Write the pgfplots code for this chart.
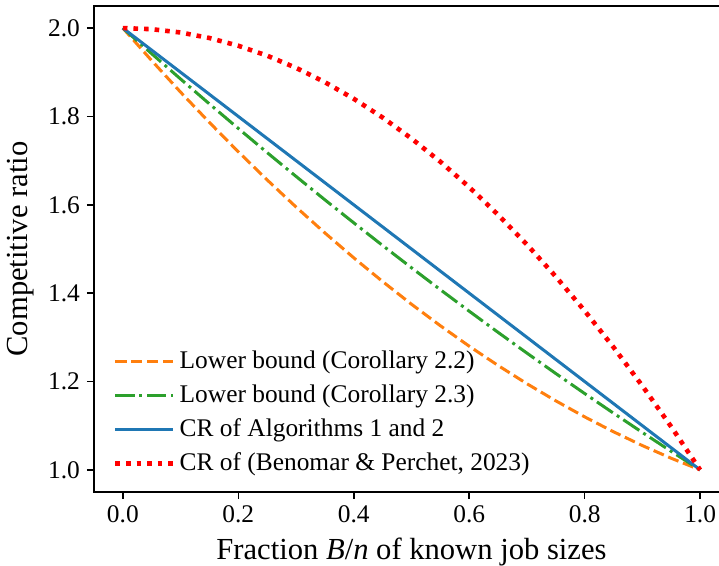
\documentclass[border=0pt]{standalone}
\usepackage{pgfplots}
\pgfplotsset{compat=1.18}
\usepackage{fontspec}
\setmainfont{Liberation Serif}
\definecolor{tabblue}{HTML}{1F77B4}
\definecolor{taborange}{HTML}{FF7F0E}
\definecolor{tabgreen}{HTML}{2CA02C}

\begin{document}
\begin{tikzpicture}
\begin{axis}[
  scale only axis,
  width=317.5pt, height=243pt,
  at={(0,0)}, anchor=south west,
  xmin=-0.05, xmax=1.05, ymin=0.95, ymax=2.05,
  xtick={0,0.2,0.4,0.6,0.8,1.0},
  ytick={1.0,1.2,1.4,1.6,1.8,2.0},
  xticklabel style={/pgf/number format/.cd,fixed,fixed zerofill,precision=1},
  yticklabel style={/pgf/number format/.cd,fixed,fixed zerofill,precision=1},
  /pgf/number format/assume math mode=true,
  tick align=outside, major tick length=3.5pt,
  tick style={black, line width=0.8pt},
  xtick pos=bottom, ytick pos=left,
  axis line style={line width=0.8pt},
  ticklabel style={font=\rmfamily\fontsize{12.7}{15}\selectfont},
  xlabel={Fraction \textit{B}/\textit{n} of known job sizes},
  ylabel={Competitive ratio},
  label style={font=\rmfamily\fontsize{15.3}{18}\selectfont},
  xlabel style={yshift=-0.5pt},
  legend style={draw=none, fill=none, at={(0.02,0.02)}, anchor=south west,
    font=\rmfamily\fontsize{12.7}{15}\selectfont, row sep=2.6pt},
  legend cell align=left,
  legend image code/.code={\draw[#1] (0pt,0pt) -- (23.5pt,0pt);
    \path (0pt,0pt) -- (29pt,0pt);},
  every axis plot/.append style={line width=1.5pt},
]
\addplot[taborange, dash pattern=on 5.55pt off 2.4pt] table {
x y
0.00 2.0000
0.05 1.9263
0.10 1.8550
0.15 1.7863
0.20 1.7200
0.25 1.6563
0.30 1.5950
0.35 1.5363
0.40 1.4800
0.45 1.4263
0.50 1.3750
0.55 1.3263
0.60 1.2800
0.65 1.2363
0.70 1.1950
0.75 1.1563
0.80 1.1200
0.85 1.0863
0.90 1.0550
0.95 1.0263
1.00 1.0000
};
\addlegendentry{Lower bound (Corollary 2.2)}
\addplot[tabgreen, dash pattern=on 9.6pt off 2.4pt on 1.5pt off 2.4pt] table {
x y
0.00 2.0000
0.05 1.9419
0.10 1.8847
0.15 1.8283
0.20 1.7728
0.25 1.7181
0.30 1.6643
0.35 1.6113
0.40 1.5592
0.45 1.5079
0.50 1.4575
0.55 1.4079
0.60 1.3592
0.65 1.3113
0.70 1.2643
0.75 1.2181
0.80 1.1728
0.85 1.1283
0.90 1.0847
0.95 1.0419
1.00 1.0000
};
\addlegendentry{Lower bound (Corollary 2.3)}
\addplot[tabblue] table {
x y
0.00 2.0
1.00 1.0
};
\addlegendentry{CR of Algorithms 1 and 2}
\addplot[red, line width=2.3pt, dash pattern=on 2.3pt off 3pt] table {
x y
0.00 2.0000
0.05 1.9975
0.10 1.9900
0.15 1.9775
0.20 1.9600
0.25 1.9375
0.30 1.9100
0.35 1.8775
0.40 1.8400
0.45 1.7975
0.50 1.7500
0.55 1.6975
0.60 1.6400
0.65 1.5775
0.70 1.5100
0.75 1.4375
0.80 1.3600
0.85 1.2775
0.90 1.1900
0.95 1.0975
1.00 1.0000
};
\addlegendentry{CR of (Benomar \& Perchet, 2023)}
\end{axis}
\pgfresetboundingbox
\useasboundingbox (-47pt,-37pt) rectangle (312.5pt,246pt);
\end{tikzpicture}
\end{document}
